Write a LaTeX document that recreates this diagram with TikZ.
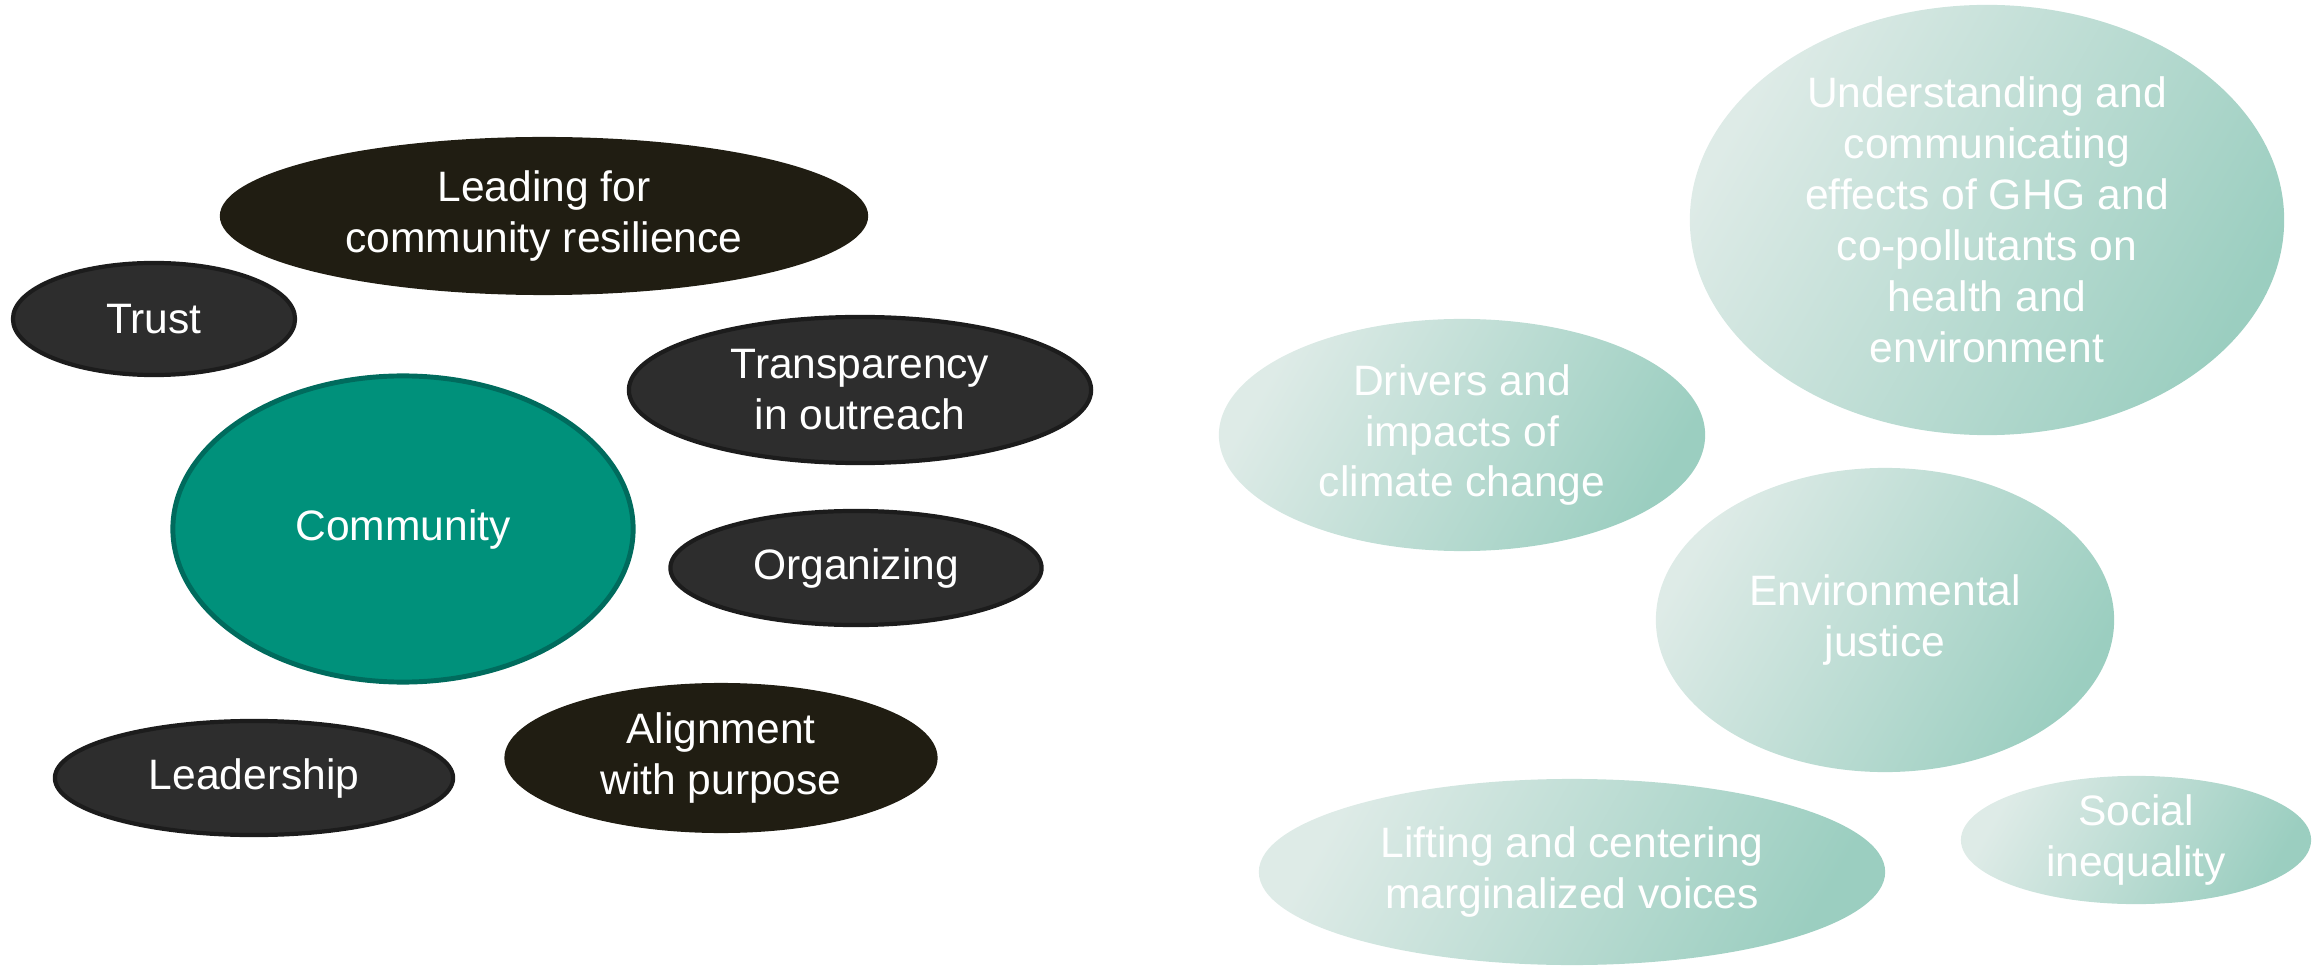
\documentclass[tikz,border=0pt]{standalone}
\usepackage{fontspec}
\setmainfont{Liberation Sans}
\usetikzlibrary{shapes.geometric}
\definecolor{darkgray}{RGB}{45,45,45}
\definecolor{darkedge}{RGB}{28,28,28}
\definecolor{olive}{RGB}{32,29,18}
\definecolor{commfill}{RGB}{0,145,123}
\definecolor{commedge}{RGB}{0,107,93}
\definecolor{tlight}{RGB}{222,235,231}
\definecolor{tdark}{RGB}{155,206,192}
\tikzset{
  bubble/.style={ellipse, inner sep=0pt, align=center, text=white,
    font=\fontsize{12.1pt}{14.5pt}\selectfont},
  grayb/.style={bubble, fill=darkgray, draw=darkedge, line width=1.2pt},
  oliveb/.style={bubble, fill=olive},
  commb/.style={bubble, fill=commfill, draw=commedge, line width=1.4pt},
  tealb/.style={bubble, left color=tlight, right color=tdark, shading angle=60},
}
\begin{document}
\begin{tikzpicture}[x=0.01cm, y=-0.01cm]
\useasboundingbox (0,0) rectangle (2321,967);
% left group
\node[oliveb, minimum width=6.48cm, minimum height=1.58cm] (lead) at (544,216) {Leading for\\community resilience};
\node[grayb, minimum width=2.82cm, minimum height=1.12cm] (trust) at (154,319) {Trust};
\node[commb, minimum width=4.60cm, minimum height=3.06cm] (comm) at (403,529) {Community};
\node[grayb, minimum width=4.62cm, minimum height=1.46cm] (transp) at (860,390) {Transparency\\in outreach};
\node[grayb, minimum width=3.71cm, minimum height=1.14cm] (org) at (856,568) {Organizing};
\node[grayb, minimum width=3.98cm, minimum height=1.14cm] (leader) at (254,778) {Leadership};
\node[oliveb, minimum width=4.33cm, minimum height=1.50cm] (align) at (721,758) {Alignment\\with purpose};
% right group
\node[tealb, minimum width=5.94cm, minimum height=4.30cm] (under) at (1987,220) {Understanding and\\communicating\\effects of GHG and\\co-pollutants on\\health and\\environment};
\node[tealb, minimum width=4.86cm, minimum height=2.32cm] (drivers) at (1462,435) {Drivers and\\impacts of\\climate change};
\node[tealb, minimum width=4.58cm, minimum height=3.04cm] (envj) at (1885,620) {Environmental\\justice};
\node[tealb, minimum width=6.26cm, minimum height=1.86cm] (lift) at (1572,872) {Lifting and centering\\marginalized voices};
\node[tealb, minimum width=3.50cm, minimum height=1.22cm] (social) at (2136,840) {Social\\inequality};
\end{tikzpicture}
\end{document}
